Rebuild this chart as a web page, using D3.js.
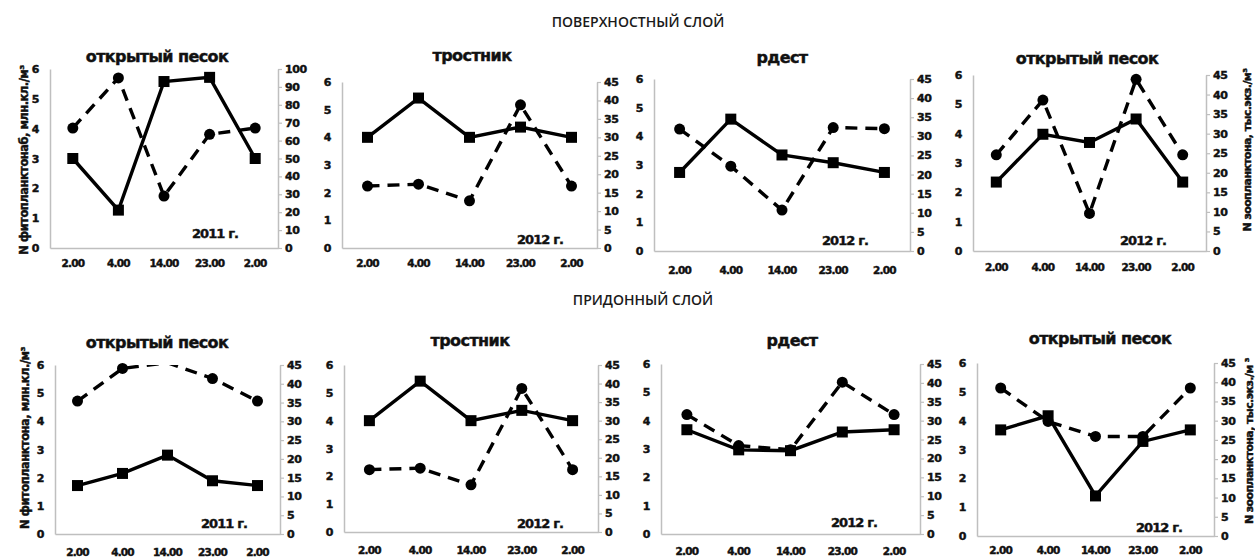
<!DOCTYPE html>
<html>
<head>
<meta charset="utf-8">
<script src="https://cdn.jsdelivr.net/npm/d3@7"></script>
<style>
body { margin: 0; background: #fff; }
svg text { font-family: "DejaVu Sans", Verdana, sans-serif; font-weight: bold; fill: #111; }
svg text.heavy { stroke: #111; stroke-width: 0.45px; }
</style>
</head>
<body>
<script>
const svgWidth = 1255;
const svgHeight = 557;

// categories (sampling time)
const times = ['2.00', '4.00', '14.00', '23.00', '2.00'];
const sections = ['ПОВЕРХНОСТНЫЙ СЛОЙ', 'ПРИДОННЫЙ СЛОЙ'];
const titles = ['открытый песок', 'тростник', 'рдест', 'открытый песок',
                'открытый песок', 'тростник', 'рдест', 'открытый песок'];
const years = ['2011 г.', '2012 г.', '2012 г.', '2012 г.',
               '2011 г.', '2012 г.', '2012 г.', '2012 г.'];
const leftTitles = ['N фитопланктонаб,  млн.кл./м³', 'N фитопланктона,  млн.кл./м³'];
const rightTitles = ['N зоопланктона,  тыс.экз./м³', 'N зоопланктона,  тыс.экз./м ³'];

// phytoplankton, left axis (solid line, squares)
const phyto = [
    [3.0, 1.27, 5.58, 5.72, 3.0],
    [4.0, 5.42, 4.0, 4.37, 4.0],
    [2.74, 4.6, 3.35, 3.08, 2.74],
    [2.35, 3.98, 3.7, 4.5, 2.35],
    [1.72, 2.15, 2.8, 1.89, 1.72],
    [4.0, 5.42, 4.0, 4.37, 4.0],
    [3.68, 2.97, 2.94, 3.6, 3.68],
    [3.68, 4.17, 1.39, 3.28, 3.68]
];
// zooplankton, right axis (dashed line, circles)
const zoo = [
    [67, 95, 29, 63.5, 67],
    [16.8, 17.3, 12.8, 38.8, 16.8],
    [31.9, 22.2, 10.7, 32.3, 32.0],
    [24.6, 38.6, 9.6, 43.9, 24.6],
    [35.4, 44.1, 45.6, 41.4, 35.4],
    [16.8, 17.2, 12.7, 38.7, 16.8],
    [31.6, 23.4, 22.3, 40.2, 31.6],
    [38.5, 29.8, 25.9, 25.9, 38.5]
];
const leftMax = [6, 6, 6, 6, 6, 6, 6, 6];
const rightMax = [100, 45, 45, 45, 45, 45, 45, 45];
const rightStep = [10, 5, 5, 5, 5, 5, 5, 5];

// panel frames on the page
const frames = [
    {l: 50, r: 278, t: 69, b: 248, tx: 157, ty: 56, yx: 215, yy: 233, xl: 263},
    {l: 342, r: 597, t: 82, b: 248, tx: 472, ty: 55, yx: 540, yy: 239, xl: 263},
    {l: 654, r: 910, t: 79, b: 251, tx: 782, ty: 57, yx: 845, yy: 240, xl: 270},
    {l: 973, r: 1206, t: 75, b: 251, tx: 1087, ty: 58, yx: 1143, yy: 240, xl: 267},
    {l: 55, r: 280, t: 365, b: 534, tx: 157, ty: 342, yx: 224, yy: 523, xl: 552},
    {l: 344, r: 598, t: 365, b: 532, tx: 470, ty: 340, yx: 540, yy: 523, xl: 550},
    {l: 661, r: 920, t: 364, b: 534, tx: 792, ty: 340, yx: 854, yy: 522, xl: 551},
    {l: 977, r: 1214, t: 363, b: 536, tx: 1100, ty: 338, yx: 1159, yy: 527, xl: 550}
];

const axisColor = '#bfbfbf';

const svg = d3.select('body')
.append('svg')
.attr('width', svgWidth)
.attr('height', svgHeight);

// section headers
svg.selectAll('text.section')
.data(sections).enter()
.append('text')
.attr('class', 'section')
.attr('x', (d, i) => i === 0 ? 638 : 643)
.attr('y', (d, i) => i === 0 ? 21 : 299)
.attr('text-anchor', 'middle')
.attr('dominant-baseline', 'central')
.style('font-family', '"Open Sans", "Noto Sans", sans-serif')
.style('font-weight', '600')
.style('font-size', '14px')
.style('fill', '#1a1a1a')
.text((d) => d);

frames.forEach((f, p) => {
    const g = svg.append('g').attr('class', 'panel');

    const x = d3.scaleBand()
    .domain(d3.range(times.length))
    .range([f.l, f.r])
    .padding(0);

    const yL = d3.scaleLinear().domain([0, leftMax[p]]).range([f.b, f.t]);
    const yR = d3.scaleLinear().domain([0, rightMax[p]]).range([f.b, f.t]);

    // left axis
    const left = g.append('g')
    .attr('transform', `translate(${f.l},0)`)
    .call(d3.axisLeft(yL).ticks(6).tickSize(0).tickPadding(11).tickFormat(d3.format('d')));

    // right axis
    const right = g.append('g')
    .attr('transform', `translate(${f.r},0)`)
    .call(d3.axisRight(yR)
        .tickValues(d3.range(0, rightMax[p] + 0.01, rightStep[p]))
        .tickSize(4).tickSizeOuter(0).tickPadding(3).tickFormat(d3.format('d')));

    // bottom axis
    const bottom = g.append('g')
    .attr('transform', `translate(0,${f.b})`)
    .call(d3.axisBottom(x).tickSize(0).tickSizeOuter(0)
        .tickPadding(f.xl - f.b - 3.5)
        .tickFormat((i) => times[i]));

    [left, right, bottom].forEach((ax) => {
        ax.select('.domain').attr('stroke', axisColor).attr('stroke-width', 1.5);
        ax.selectAll('.tick line').attr('stroke', axisColor).attr('stroke-width', 1.2);
        ax.selectAll('.tick text')
        .attr('class', 'heavy')
        .style('font-family', '"DejaVu Sans", Verdana, sans-serif')
        .style('font-weight', 'bold')
        .style('font-size', '11px')
        .style('letter-spacing', '-0.4px')
        .attr('fill', '#111');
    });
    bottom.selectAll('.tick text').style('font-size', '10.5px').style('letter-spacing', '-0.8px');

    // title and year
    g.append('text')
    .attr('class', 'heavy')
    .attr('x', f.tx).attr('y', f.ty)
    .attr('text-anchor', 'middle')
    .attr('dominant-baseline', 'central')
    .style('font-size', '16px')
    .style('letter-spacing', '-0.6px')
    .text(titles[p]);

    g.append('text')
    .attr('class', 'heavy')
    .attr('x', f.yx).attr('y', f.yy)
    .attr('text-anchor', 'middle')
    .attr('dominant-baseline', 'central')
    .style('font-size', '13px')
    .style('letter-spacing', '-0.9px')
    .text(years[p]);

    // clip to plot area
    const clipId = `clip-${p}`;
    g.append('clipPath').attr('id', clipId)
    .append('rect')
    .attr('x', f.l).attr('y', f.t)
    .attr('width', f.r - f.l).attr('height', f.b - f.t);

    const cx = (i) => x(i) + x.bandwidth() / 2;

    // phytoplankton series
    const phytoLine = d3.line().x((d, i) => cx(i)).y((d) => yL(d));
    g.append('path')
    .datum(phyto[p])
    .attr('clip-path', `url(#${clipId})`)
    .attr('fill', 'none')
    .attr('stroke', '#000')
    .attr('stroke-width', 3.4)
    .attr('d', phytoLine);

    g.selectAll('rect.sq')
    .data(phyto[p].map((v, i) => ({v, i})).filter((d) => d.v <= leftMax[p]))
    .enter().append('rect')
    .attr('class', 'sq')
    .attr('x', (d) => cx(d.i) - 5.5)
    .attr('y', (d) => yL(d.v) - 5.5)
    .attr('width', 11).attr('height', 11)
    .attr('fill', '#000');

    // zooplankton series
    const zooLine = d3.line().x((d, i) => cx(i)).y((d) => yR(d));
    g.append('path')
    .datum(zoo[p])
    .attr('clip-path', `url(#${clipId})`)
    .attr('fill', 'none')
    .attr('stroke', '#000')
    .attr('stroke-width', 3.4)
    .attr('stroke-dasharray', '12,8')
    .attr('d', zooLine);

    g.selectAll('circle.pt')
    .data(zoo[p].map((v, i) => ({v, i})).filter((d) => d.v <= rightMax[p]))
    .enter().append('circle')
    .attr('class', 'pt')
    .attr('cx', (d) => cx(d.i))
    .attr('cy', (d) => yR(d.v))
    .attr('r', 5.5)
    .attr('fill', '#000');
});

// left axis titles
[{x: 24, y: 160}, {x: 25, y: 438}].forEach((pos, i) => {
    svg.append('text')
    .attr('class', 'heavy')
    .attr('transform', `translate(${pos.x},${pos.y}) rotate(-90)`)
    .attr('text-anchor', 'middle')
    .attr('dominant-baseline', 'central')
    .style('font-size', '11.5px')
    .style('letter-spacing', '-0.5px')
    .text(leftTitles[i]);
});

// right axis titles
[{x: 1247, y: 150}, {x: 1249, y: 441}].forEach((pos, i) => {
    svg.append('text')
    .attr('class', 'heavy')
    .attr('transform', `translate(${pos.x},${pos.y}) rotate(-90)`)
    .attr('text-anchor', 'middle')
    .attr('dominant-baseline', 'central')
    .style('font-size', '11px')
    .style('letter-spacing', '-0.6px')
    .text(rightTitles[i]);
});
</script>
</body>
</html>
